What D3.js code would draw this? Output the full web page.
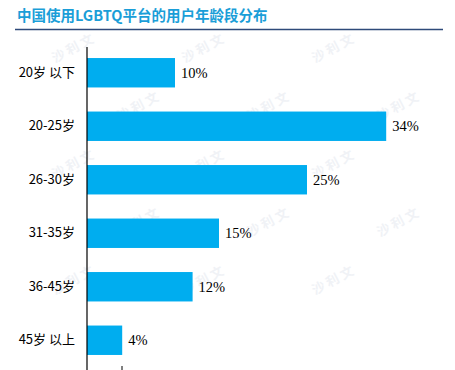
<!DOCTYPE html>
<html>
<head>
<meta charset="utf-8">
<script src="https://cdn.jsdelivr.net/npm/d3@7"></script>
<style>
  body { margin: 0; background: #fff; }
  svg { display: block; }
</style>
</head>
<body>
<svg id="chart" width="455" height="370"></svg>
<script>
// Chart data
var titleText = "中国使用LGBTQ平台的用户年龄段分布";
var categories = ["20岁 以下", "20-25岁", "26-30岁", "31-35岁", "36-45岁", "45岁 以上"];
var values = [10, 34, 25, 15, 12, 4];
var watermarkText = "沙 利 文";

var svg = d3.select("#chart");

// watermark tiles (faint, behind everything), kept inside the picture
var wm = svg.append("g").attr("class", "watermark");
var wmSpots = [];
for (var r = 0; r < 7; r++) {
    for (var c = 0; c < 5; c++) {
        var px = c * 130 + (r % 2) * 65 - 10, py = r * 58 + 5;
        if (px > 5 && px < 390 && py > 50 && py < 350) wmSpots.push([px, py]);
    }
}
wm.selectAll("text")
    .data(wmSpots)
    .enter().append("text")
    .attr("transform", d => "translate(" + d[0] + "," + d[1] + ") rotate(-28)")
    .attr("font-family", "Noto Sans CJK SC")
    .attr("font-size", 13)
    .attr("font-weight", "bold")
    .attr("fill", "#f0f2f6")
    .text(watermarkText);

// Title
svg.append("text")
    .attr("x", 17)
    .attr("y", 21)
    .attr("font-family", "Noto Sans CJK SC")
    .attr("font-weight", "bold")
    .attr("font-size", 14.5)
    .attr("fill", "#1a9ed8")
    .text(titleText);

svg.append("line")
    .attr("x1", 15).attr("x2", 443)
    .attr("y1", 29.5).attr("y2", 29.5)
    .attr("stroke", "#2e4a7a")
    .attr("stroke-width", 1.5);

// Scales
var xScale = d3.scaleLinear().domain([0, 40]).range([87, 439]);
var yScale = d3.scaleBand()
    .domain(categories)
    .range([46, 367])
    .paddingInner(0.45)
    .paddingOuter(0.225);

// Bars
svg.selectAll(".bar")
    .data(values)
    .enter().append("rect")
    .attr("class", "bar")
    .attr("x", xScale(0))
    .attr("y", (d, i) => yScale(categories[i]))
    .attr("width", d => xScale(d) - xScale(0))
    .attr("height", yScale.bandwidth())
    .attr("fill", "#00adef");

// Value labels
svg.selectAll(".val")
    .data(values)
    .enter().append("text")
    .attr("class", "val")
    .attr("x", d => xScale(d) + 6)
    .attr("y", (d, i) => yScale(categories[i]) + yScale.bandwidth() / 2)
    .attr("dy", "0.35em")
    .attr("font-family", "Liberation Serif")
    .attr("font-size", 14.5)
    .attr("fill", "#000")
    .text(d => d + "%");

// Y axis (left line, no ticks)
var yAxis = d3.axisLeft(yScale).tickSize(0).tickPadding(12);
var yg = svg.append("g")
    .attr("transform", "translate(" + xScale(0) + ",0)")
    .call(yAxis);
yg.select(".domain").remove();
yg.selectAll("text")
    .attr("font-family", "Noto Sans CJK SC")
    .attr("font-size", 13)
    .attr("fill", "#000");

svg.append("line")
    .attr("x1", xScale(0)).attr("x2", xScale(0))
    .attr("y1", 47).attr("y2", 370)
    .attr("stroke", "#000")
    .attr("stroke-width", 1.2);

// little tick at the bottom edge
svg.append("line")
    .attr("x1", 122).attr("x2", 122)
    .attr("y1", 366).attr("y2", 370)
    .attr("stroke", "#000")
    .attr("stroke-width", 1);
</script>
</body>
</html>
